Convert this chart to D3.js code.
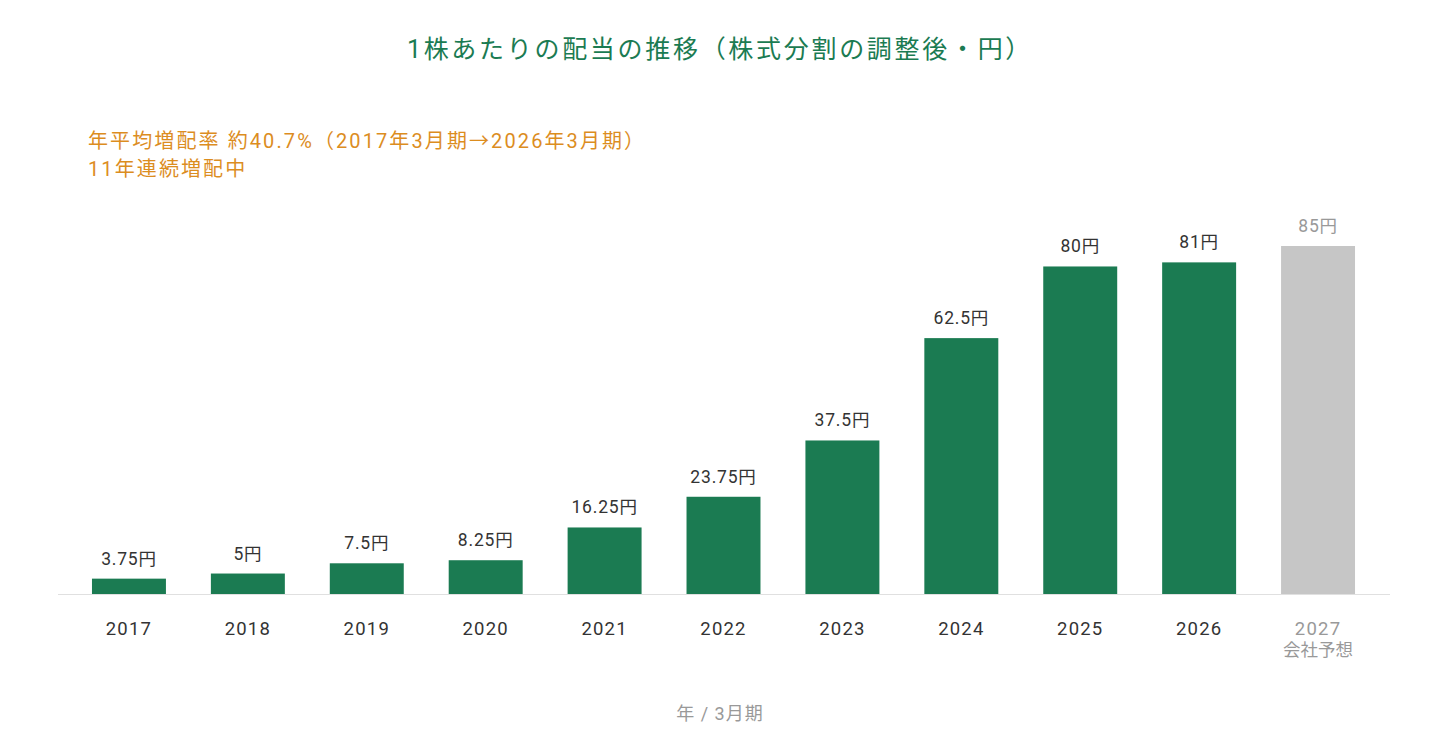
<!doctype html>
<html lang="ja">
<head>
<meta charset="UTF-8" />
<script src="https://d3js.org/d3.v7.min.js"></script>
<title>1株あたりの配当の推移</title>
<style>
  body { margin: 0; background: #fff; }
  text { font-family: Roboto, "Noto Sans CJK JP", sans-serif; }
</style>
</head>
<body>
<div id="chart"></div>
<script>
// data
const years = ["2017", "2018", "2019", "2020", "2021", "2022", "2023", "2024", "2025", "2026", "2027"]
const dividends = [3.75, 5, 7.5, 8.25, 16.25, 23.75, 37.5, 62.5, 80, 81, 85]
const valueLabels = ["3.75円", "5円", "7.5円", "8.25円", "16.25円", "23.75円", "37.5円", "62.5円", "80円", "81円", "85円"]
const forecastYear = "2027"
const forecastNote = "会社予想"

const W = 1440, H = 735
const green = "#1b7b52", grey = "#c6c6c6", orange = "#dc8d1f"
const baseY = 594

const svg = d3.select("#chart").append("svg")
  .attr("width", W).attr("height", H)

const x = d3.scaleBand()
  .domain(years)
  .range([69.5, 1377.5])
  .paddingInner(0.378)
  .paddingOuter(0.189)

const y = d3.scaleLinear().domain([0, 85]).range([baseY, 246])

// title
svg.append("text")
  .attr("x", 720).attr("y", 58)
  .attr("text-anchor", "middle")
  .attr("font-size", 25)
  .attr("letter-spacing", 2.7)
  .attr("fill", green)
  .text("1株あたりの配当の推移（株式分割の調整後・円）")

// annotation
const note = svg.append("text")
  .attr("x", 88).attr("y", 148)
  .attr("font-size", 20)
  .attr("letter-spacing", 2.1)
  .attr("fill", orange)
note.append("tspan").attr("x", 88).text("年平均増配率 約40.7%（2017年3月期→2026年3月期）")
note.append("tspan").attr("x", 88).attr("dy", 28).text("11年連続増配中")

// baseline
svg.append("line")
  .attr("x1", 58).attr("x2", 1390)
  .attr("y1", baseY + 0.5).attr("y2", baseY + 0.5)
  .attr("stroke", "#e0e0e0")

// bars
const data = years.map((yr, i) => ({ year: yr, value: dividends[i], label: valueLabels[i] }))

svg.selectAll(".bar")
  .data(data)
  .enter().append("rect")
  .attr("class", "bar")
  .attr("x", d => x(d.year))
  .attr("width", x.bandwidth())
  .attr("y", d => y(d.value))
  .attr("height", d => baseY - y(d.value))
  .attr("fill", d => d.year === forecastYear ? grey : green)

svg.selectAll(".val")
  .data(data)
  .enter().append("text")
  .attr("class", "val")
  .attr("x", d => x(d.year) + x.bandwidth() / 2)
  .attr("y", d => y(d.value) - 14)
  .attr("text-anchor", "middle")
  .attr("font-size", 17.5)
  .attr("letter-spacing", 0.8)
  .attr("fill", d => d.year === forecastYear ? "#999" : "#333")
  .text(d => d.label)

// x axis labels
const xAxis = svg.append("g")
  .attr("transform", `translate(0,${baseY})`)
  .call(d3.axisBottom(x).tickSize(0).tickPadding(28))
xAxis.select(".domain").remove()
xAxis.selectAll("text")
  .attr("font-size", 18.5)
  .attr("letter-spacing", 1.2)
  .attr("font-family", "Roboto, \"Noto Sans CJK JP\", sans-serif")
  .attr("fill", d => d === forecastYear ? "#999" : "#333")

svg.append("text")
  .attr("x", x(forecastYear) + x.bandwidth() / 2)
  .attr("y", 656)
  .attr("text-anchor", "middle")
  .attr("font-size", 17.5)
  .attr("fill", "#999")
  .text(forecastNote)

// axis title
svg.append("text")
  .attr("x", 720).attr("y", 720)
  .attr("text-anchor", "middle")
  .attr("font-size", 18)
  .attr("letter-spacing", 1)
  .attr("fill", "#999")
  .text("年 / 3月期")
</script>
</body>
</html>
